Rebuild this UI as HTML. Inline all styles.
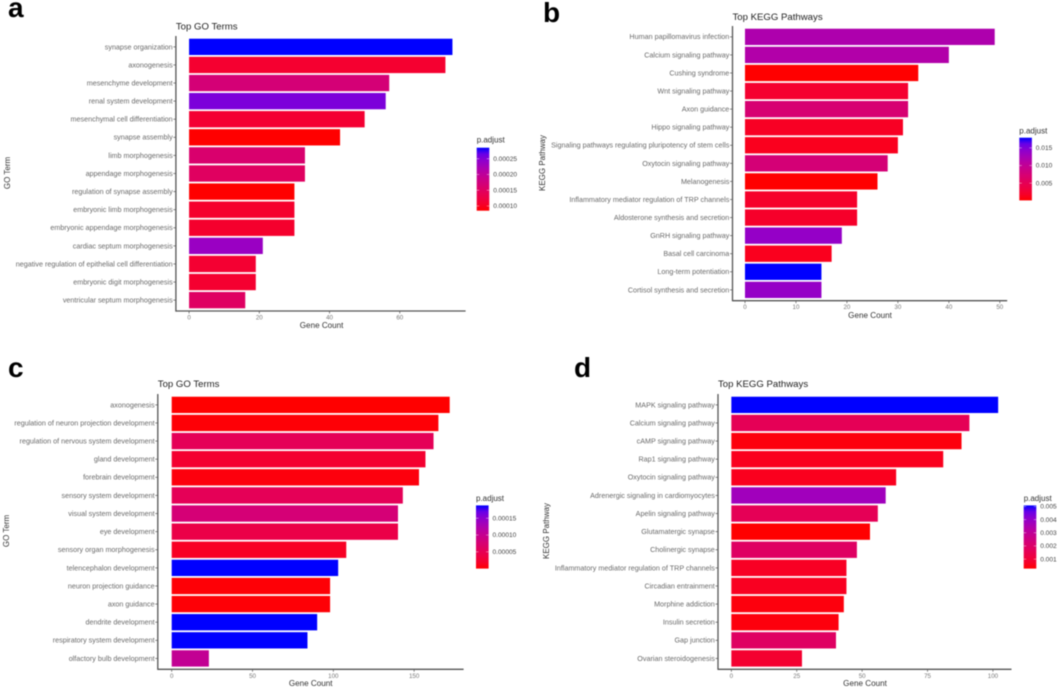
<!DOCTYPE html>
<html lang="en">
<head>
<meta charset="utf-8">
<title>GO and KEGG enrichment bar charts</title>
<style>
html,body{margin:0;padding:0;background:#fff;width:1059px;height:689px;overflow:hidden}
svg{display:block;filter:blur(0.5px);font-family:"Liberation Sans",sans-serif}
</style>
</head>
<body>
<svg id="figure" width="1059" height="689" viewBox="0 0 1059 689" xmlns="http://www.w3.org/2000/svg">
<defs id="gradients"></defs>
</svg>
<script>
// Panel a
const termsA = ["synapse organization","axonogenesis","mesenchyme development","renal system development","mesenchymal cell differentiation","synapse assembly","limb morphogenesis","appendage morphogenesis","regulation of synapse assembly","embryonic limb morphogenesis","embryonic appendage morphogenesis","cardiac septum morphogenesis","negative regulation of epithelial cell differentiation","embryonic digit morphogenesis","ventricular septum morphogenesis"];
const countsA = [75,73,57,56,50,43,33,33,30,30,30,21,19,19,16];
const padjA = [0.000285,0.000109,0.000169,0.000255,0.000111,0.000085,0.000161,0.000149,0.000085,0.000107,0.000107,0.000235,0.000111,0.000109,0.000151];
const xTicksA = [0,20,40,60];
const legendTicksA = ["0.00010","0.00015","0.00020","0.00025"];

// Panel b
const termsB = ["Human papillomavirus infection","Calcium signaling pathway","Cushing syndrome","Wnt signaling pathway","Axon guidance","Hippo signaling pathway","Signaling pathways regulating pluripotency of stem cells","Oxytocin signaling pathway","Melanogenesis","Inflammatory mediator regulation of TRP channels","Aldosterone synthesis and secretion","GnRH signaling pathway","Basal cell carcinoma","Long-term potentiation","Cortisol synthesis and secretion"];
const countsB = [49,40,34,32,32,31,30,28,26,22,22,19,17,15,15];
const padjB = [0.01185,0.01149,0.0001,0.00224,0.0072,0.00152,0.00117,0.00758,0.0001,0.00188,0.00188,0.0138,0.00117,0.0179,0.0138];
const xTicksB = [0,10,20,30,40,50];
const legendTicksB = ["0.005","0.010","0.015"];

// Panel c
const termsC = ["axonogenesis","regulation of neuron projection development","regulation of nervous system development","gland development","forebrain development","sensory system development","visual system development","eye development","sensory organ morphogenesis","telencephalon development","neuron projection guidance","axon guidance","dendrite development","respiratory system development","olfactory bulb development"];
const countsC = [172,165,162,157,153,143,140,140,108,103,98,98,90,84,23];
const padjC = [0.0000002,0.000002,0.000053,0.000023,0.000004,0.000053,0.000079,0.000041,0.000015,0.000188,0.000002,0.000002,0.000188,0.000188,0.000103];
const xTicksC = [0,50,100,150];
const legendTicksC = ["0.00005","0.00010","0.00015"];

// Panel d
const termsD = ["MAPK signaling pathway","Calcium signaling pathway","cAMP signaling pathway","Rap1 signaling pathway","Oxytocin signaling pathway","Adrenergic signaling in cardiomyocytes","Apelin signaling pathway","Glutamatergic synapse","Cholinergic synapse","Inflammatory mediator regulation of TRP channels","Circadian entrainment","Morphine addiction","Insulin secretion","Gap junction","Ovarian steroidogenesis"];
const countsD = [102,91,88,81,63,59,56,53,48,44,44,43,41,40,27];
const padjD = [0.00508,0.00162,0.00038,0.00057,0.00057,0.00374,0.00162,0.00028,0.00186,0.00066,0.00062,0.00038,0.00038,0.00186,0.00086];
const xTicksD = [0,25,50,75,100];
const legendTicksD = ["0.001","0.002","0.003","0.004","0.005"];

const panels = [
  {id:"a",title:"Top GO Terms",yTitle:"GO Term",terms:termsA,counts:countsA,padj:padjA,xTicks:xTicksA,legendTicks:legendTicksA,
   left:175.9,right:465.6,top:36,bottom:311,letterX:8,letterY:17,titleY:29.5,xTitleX:321.6,xTitleY:328,yTitleX:10,yTitleY:173,legX:476.7,legTop:147.7,legBottom:210.7,legTitleY:142.7},
  {id:"b",title:"Top KEGG Pathways",yTitle:"KEGG Pathway",terms:termsB,counts:countsB,padj:padjB,xTicks:xTicksB,legendTicks:legendTicksB,
   left:732.5,right:1007.2,top:26,bottom:300.7,letterX:543,letterY:22,titleY:20,xTitleX:870,xTitleY:318,yTitleX:545,yTitleY:163,legX:1019.3,legTop:137.7,legBottom:200.4,legTitleY:133.3},
  {id:"c",title:"Top GO Terms",yTitle:"GO Term",terms:termsC,counts:countsC,padj:padjC,xTicks:xTicksC,legendTicks:legendTicksC,
   left:157.8,right:463.6,top:394,bottom:669.3,letterX:8,letterY:377,titleY:387,xTitleX:310.7,xTitleY:686,yTitleX:9,yTitleY:531,legX:476,legTop:505.4,legBottom:568.6,legTitleY:501},
  {id:"d",title:"Top KEGG Pathways",yTitle:"KEGG Pathway",terms:termsD,counts:countsD,padj:padjD,xTicks:xTicksD,legendTicks:legendTicksD,
   left:718,right:1011.5,top:394,bottom:669.3,letterX:574,letterY:377,titleY:387,xTitleX:865,xTitleY:686,yTitleX:549,yTitleY:531,legX:1023.7,legTop:505.4,legBottom:568.6,legTitleY:501}
];

const NS = "http://www.w3.org/2000/svg";
const figure = document.getElementById("figure");
const gradients = document.getElementById("gradients");

function make(tag, attrs, parent, text) {
  const node = document.createElementNS(NS, tag);
  for (const key in attrs) node.setAttribute(key, attrs[key]);
  if (text !== undefined) node.textContent = text;
  parent.appendChild(node);
  return node;
}

// Lab interpolation between red and blue (ggplot-style low/high gradient)
const labLow = [53.24, 80.09, 67.2];
const labHigh = [32.3, 79.2, -107.86];
function labToHex(lab) {
  const fy = (lab[0] + 16) / 116, fx = fy + lab[1] / 500, fz = fy - lab[2] / 200;
  const inv = v => (v * v * v > 0.008856 ? v * v * v : (v - 16 / 116) / 7.787);
  const X = 0.95047 * inv(fx), Y = inv(fy), Z = 1.08883 * inv(fz);
  const lin = [3.2406 * X - 1.5372 * Y - 0.4986 * Z, -0.9689 * X + 1.8758 * Y + 0.0415 * Z, 0.0557 * X - 0.204 * Y + 1.057 * Z];
  return "#" + lin.map(c => {
    const s = c <= 0.0031308 ? 12.92 * c : 1.055 * Math.pow(c, 1 / 2.4) - 0.055;
    const v = Math.max(0, Math.min(255, Math.round(s * 255)));
    return v.toString(16).padStart(2, "0");
  }).join("");
}
function gradientColor(t) {
  const k = Math.max(0, Math.min(1, t));
  return labToHex(labLow.map((v, i) => v + (labHigh[i] - v) * k));
}

panels.forEach(p => {
  const maxCount = Math.max.apply(null, p.counts);
  const minP = Math.min.apply(null, p.padj);
  const maxP = Math.max.apply(null, p.padj);
  const xScale = v => p.left + (p.right - p.left) * (v + 0.05 * maxCount) / (1.1 * maxCount);
  const step = (p.bottom - p.top) / (p.terms.length - 1 + 1.2);
  const yScale = i => p.top + (0.6 + i) * step;
  const colorT = v => (v - minP) / (maxP - minP);
  const legendY = v => p.legBottom - (p.legBottom - p.legTop) * colorT(v);

  const g = make("g", {}, figure);
  
  

  const letter = make("text", {x:p.letterX, y:p.letterY, "font-size":28, "font-weight":"bold", fill:"#000"}, g, p.id);
  
  

  const title = make("text", {x:p.left, y:p.titleY, "font-size":9.6, fill:"#222"}, g, p.title);
  
  

  p.terms.forEach((term, i) => {
    const y = yScale(i);
    const bar = make("rect", {x:xScale(0), y:y - 0.45 * step, width:xScale(p.counts[i]) - xScale(0), height:0.9 * step, fill:gradientColor(colorT(p.padj[i]))}, g);
    
    

    const tick = make("line", {x1:p.left - 2.5, x2:p.left, y1:y, y2:y, stroke:"#555", "stroke-width":0.7}, g);
    
    

    const label = make("text", {x:p.left - 3.2, y:y + 2.4, "font-size":7.2, fill:"#6a6a6a", "text-anchor":"end"}, g, term);
    
    
  });

  p.xTicks.forEach(v => {
    const x = xScale(v);
    const tick = make("line", {x1:x, x2:x, y1:p.bottom, y2:p.bottom + 2.5, stroke:"#555", "stroke-width":0.7}, g);
    
    

    const label = make("text", {x:x, y:p.bottom + 8.5, "font-size":6.2, fill:"#777", "text-anchor":"middle"}, g, String(v));
    
    
  });

  const yAxis = make("line", {x1:p.left, x2:p.left, y1:p.top, y2:p.bottom + 0.6, stroke:"#555", "stroke-width":1.3}, g);
  
  

  const xAxis = make("line", {x1:p.left, x2:p.right, y1:p.bottom, y2:p.bottom, stroke:"#555", "stroke-width":1.3}, g);
  
  

  const xTitle = make("text", {x:p.xTitleX, y:p.xTitleY, "font-size":8.1, fill:"#333", "text-anchor":"middle"}, g, "Gene Count");
  
  

  const yTitle = make("text", {x:0, y:0, "font-size":8, fill:"#333", "text-anchor":"middle", transform:"translate(" + p.yTitleX + "," + p.yTitleY + ") rotate(-90)"}, g, p.yTitle);
  
  

  const legendTitle = make("text", {x:p.legX, y:p.legTitleY, "font-size":8, fill:"#333"}, g, "p.adjust");
  
  

  const gradient = make("linearGradient", {id:"grad-" + p.id, x1:0, x2:0, y1:1, y2:0}, gradients);
  for (let s = 0; s <= 10; s++) {
    make("stop", {offset:s / 10, "stop-color":gradientColor(s / 10)}, gradient);
  }
  const colorbar = make("rect", {x:p.legX, y:p.legTop, width:12.6, height:p.legBottom - p.legTop, fill:"url(#grad-" + p.id + ")"}, g);
  
  

  p.legendTicks.forEach(labelText => {
    const y = legendY(parseFloat(labelText));
    const left = make("line", {x1:p.legX, x2:p.legX + 2.5, y1:y, y2:y, stroke:"#fff", "stroke-width":0.4}, g);
    
    

    const right = make("line", {x1:p.legX + 10.1, x2:p.legX + 12.6, y1:y, y2:y, stroke:"#fff", "stroke-width":0.4}, g);
    
    

    const label = make("text", {x:p.legX + 16.5, y:y + 2.2, "font-size":6.6, fill:"#444"}, g, labelText);
    
    
  });
});
</script>
</body>
</html>
